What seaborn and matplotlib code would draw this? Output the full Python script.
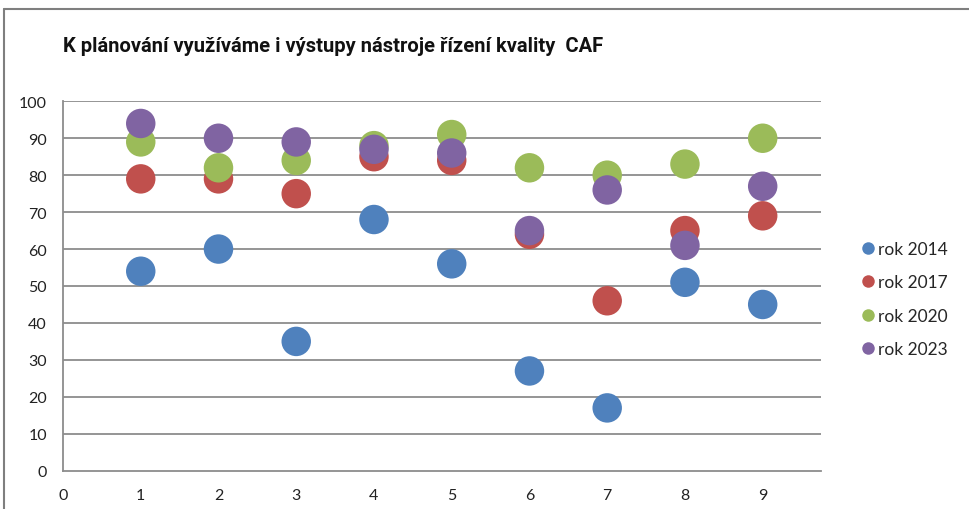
import matplotlib
matplotlib.use("Agg")
import matplotlib.pyplot as plt
import seaborn as sns
import pandas as pd
from matplotlib.lines import Line2D

sns.set_style("white")
plt.rcParams['font.family'] = ['Lato', 'DejaVu Sans']

title = "K plánování využíváme i výstupy nástroje řízení kvality  CAF"
x_vals = [1, 2, 3, 4, 5, 6, 7, 8, 9]
series_names = ["rok 2014", "rok 2017", "rok 2020", "rok 2023"]
rok_2014 = [54, 60, 35, 68, 56, 27, 17, 51, 45]
rok_2017 = [79, 79, 75, 85, 84, 64, 46, 65, 69]
rok_2020 = [89, 82, 84, 88, 91, 82, 80, 83, 90]
rok_2023 = [94, 90, 89, 87, 86, 65, 76, 61, 77]
colors = ["#4F81BD", "#C0504D", "#9BBB59", "#8064A2"]
x_ticks = [0, 1, 2, 3, 4, 5, 6, 7, 8, 9]
y_ticks = [0, 10, 20, 30, 40, 50, 60, 70, 80, 90, 100]

rows = []
for name, vals in zip(series_names, [rok_2014, rok_2017, rok_2020, rok_2023]):
    for x, v in zip(x_vals, vals):
        rows.append({"x": x, "y": v, "series": name})
df = pd.DataFrame(rows)

fig = plt.figure(figsize=(9.7, 5.1), dpi=100)
ax = fig.add_axes([63/970, (510-471.7)/510, (821-63)/970, (471.7-102.3)/510])

grid_col = "#8C8C8C"
for yt in y_ticks[1:]:
    ax.axhline(yt, color=grid_col, lw=1.3, zorder=0)

sns.scatterplot(data=df, x="x", y="y", hue="series", palette=colors,
                hue_order=series_names, s=450, edgecolor="none", alpha=1,
                legend=False, ax=ax, zorder=3)

ax.set_xlim(0, 9.75)
ax.set_ylim(0, 100)
ax.set_xticks(x_ticks)
ax.set_yticks(y_ticks)
ax.set_xlabel("")
ax.set_ylabel("")
for s in ["top", "right"]:
    ax.spines[s].set_visible(False)
for s in ["left", "bottom"]:
    ax.spines[s].set_color(grid_col)
    ax.spines[s].set_linewidth(1.3)
ax.tick_params(axis="both", direction="out", length=4.5, width=1.1, color=grid_col,
               labelsize=11.5, labelcolor="#222222", pad=7)
ax.tick_params(axis="x", pad=8)

fig.text(63/970, (510-47)/510, title, fontsize=14.5, fontweight="bold",
         family=['Roboto', 'DejaVu Sans'], fontstretch="condensed",
         va="center", ha="left", color="#111111")

handles = [Line2D([0], [0], marker="o", linestyle="none", markersize=9,
                  markerfacecolor=c, markeredgecolor="none") for c in colors]
fig.legend(handles, series_names, loc="center left", bbox_to_anchor=(852/970, (510-300)/510),
           frameon=False, fontsize=12.5, handletextpad=0.1, labelspacing=1.0,
           handlelength=1.0, borderaxespad=0)

fig.add_artist(Line2D([4/970, 1], [(510-10)/510, (510-10)/510], transform=fig.transFigure,
                      color="#7F7F7F", lw=1.5))
fig.add_artist(Line2D([4/970, 4/970], [0, (510-10)/510], transform=fig.transFigure,
                      color="#7F7F7F", lw=1.5))

fig.savefig("out.png", dpi=100)
